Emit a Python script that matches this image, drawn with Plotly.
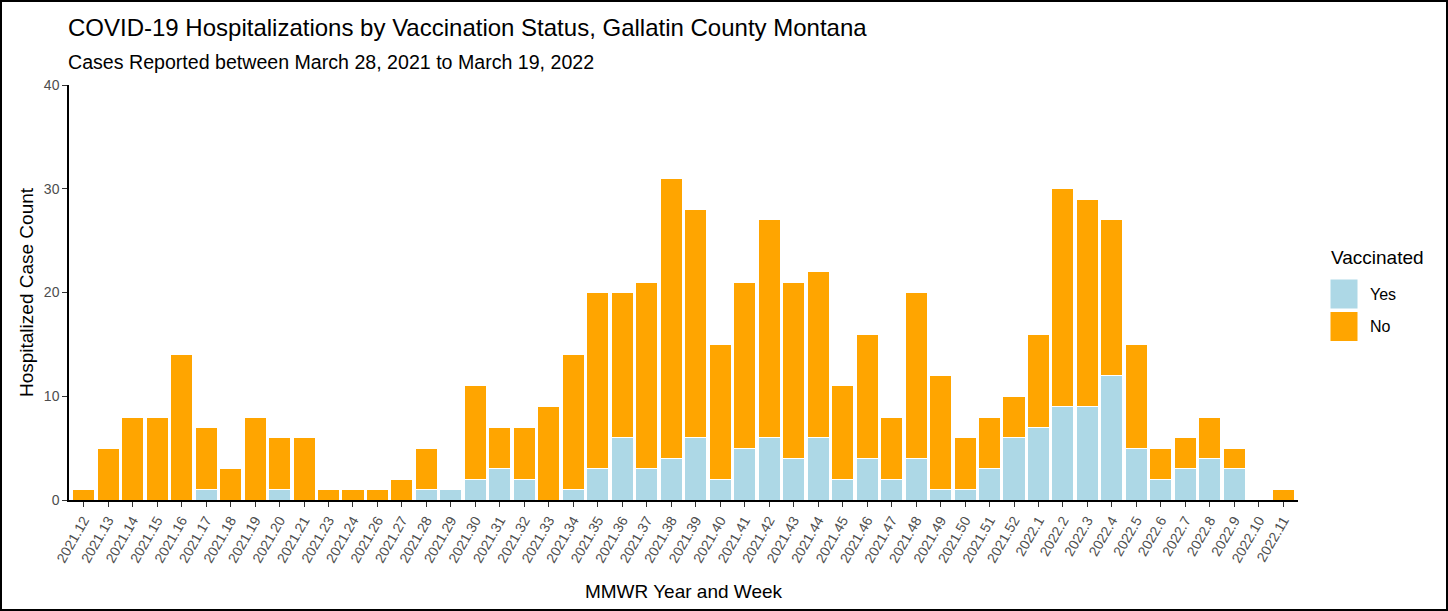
import plotly.graph_objects as go

weeks = ["2021.12", "2021.13", "2021.14", "2021.15", "2021.16", "2021.17", "2021.18", "2021.19",
         "2021.20", "2021.21", "2021.23", "2021.24", "2021.26", "2021.27", "2021.28", "2021.29",
         "2021.30", "2021.31", "2021.32", "2021.33", "2021.34", "2021.35", "2021.36", "2021.37",
         "2021.38", "2021.39", "2021.40", "2021.41", "2021.42", "2021.43", "2021.44", "2021.45",
         "2021.46", "2021.47", "2021.48", "2021.49", "2021.50", "2021.51", "2021.52",
         "2022.1", "2022.2", "2022.3", "2022.4", "2022.5", "2022.6", "2022.7", "2022.8",
         "2022.9", "2022.10", "2022.11"]

vaccinated_yes = [0, 0, 0, 0, 0, 1, 0, 0, 1, 0, 0, 0, 0, 0, 1, 1,
                  2, 3, 2, 0, 1, 3, 6, 3, 4, 6, 2, 5, 6, 4, 6, 2,
                  4, 2, 4, 1, 1, 3, 6,
                  7, 9, 9, 12, 5, 2, 3, 4, 3, 0, 0]

vaccinated_no = [1, 5, 8, 8, 14, 6, 3, 8, 5, 6, 1, 1, 1, 2, 4, 0,
                 9, 4, 5, 9, 13, 17, 14, 18, 27, 22, 13, 16, 21, 17, 16, 9,
                 12, 6, 16, 11, 5, 5, 4,
                 9, 21, 20, 15, 10, 3, 3, 4, 2, 0, 1]

legend_labels = ["Yes", "No"]
legend_colors = ["#ADD8E6", "#FFA500"]

W, H = 1448, 611
L, R, T, B = 69, 150, 85, 111
PW, PH = W - L - R, H - T - B


def px_x(px):
    return (px - L) / PW


def px_y(py):
    return (H - B - py) / PH


fig = go.Figure()
fig.add_trace(go.Bar(x=weeks, y=vaccinated_yes, name=legend_labels[0], showlegend=False,
                     marker=dict(color=legend_colors[0], line=dict(color="white", width=1))))
fig.add_trace(go.Bar(x=weeks, y=vaccinated_no, name=legend_labels[1], showlegend=False,
                     marker=dict(color=legend_colors[1], line=dict(color="white", width=1))))

font = "Liberation Sans, Arial, sans-serif"

annotations = [
    dict(text="COVID-19 Hospitalizations by Vaccination Status, Gallatin County Montana",
         xref="paper", yref="paper", x=px_x(66), y=px_y(28), xanchor="left", yanchor="middle",
         showarrow=False, font=dict(size=24, color="black")),
    dict(text="Cases Reported between March 28, 2021 to March 19, 2022",
         xref="paper", yref="paper", x=px_x(66), y=px_y(62), xanchor="left", yanchor="middle",
         showarrow=False, font=dict(size=19.6, color="black")),
    dict(text="Vaccinated", xref="paper", yref="paper", x=px_x(1329), y=px_y(257),
         xanchor="left", yanchor="middle", showarrow=False, font=dict(size=19, color="black")),
]
shapes = []
for i, (lab, col) in enumerate(zip(legend_labels, legend_colors)):
    top = 279 + i * 32.5
    shapes.append(dict(type="rect", xref="paper", yref="paper",
                       x0=px_x(1330), x1=px_x(1358), y0=px_y(top), y1=px_y(top + 30),
                       fillcolor=col, line=dict(color="white", width=1)))
    annotations.append(dict(text=lab, xref="paper", yref="paper", x=px_x(1368), y=px_y(top + 15),
                            xanchor="left", yanchor="middle", showarrow=False,
                            font=dict(size=16, color="black")))

shapes.append(dict(type="rect", xref="paper", yref="paper",
                   x0=px_x(1), x1=px_x(W - 1), y0=px_y(H - 1), y1=px_y(1),
                   line=dict(color="black", width=2), fillcolor="rgba(0,0,0,0)", layer="above"))

fig.update_layout(
    width=W, height=H,
    margin=dict(l=L, r=R, t=T, b=B),
    barmode="stack", bargap=0.1,
    plot_bgcolor="white", paper_bgcolor="white",
    font=dict(family=font, color="black"),
    showlegend=False,
    xaxis=dict(type="category", range=[-0.6, len(weeks) - 0.4],
               showline=True, linecolor="black", linewidth=1.5,
               ticks="outside", ticklen=5, tickcolor="#333333",
               tickangle=-60, tickfont=dict(size=14, color="#4d4d4d"),
               title=dict(text="MMWR Year and Week", font=dict(size=19, color="black"), standoff=20),
               showgrid=False),
    yaxis=dict(range=[0, 40], tickvals=[0, 10, 20, 30, 40],
               showline=True, linecolor="black", linewidth=1.5,
               ticks="outside", ticklen=5, tickcolor="#333333",
               tickfont=dict(size=14, color="#4d4d4d"),
               title=dict(text="Hospitalized Case Count", font=dict(size=19, color="black"), standoff=5),
               showgrid=False, zeroline=False),
    annotations=annotations,
    shapes=shapes,
)

fig.write_html("out.html", config={"displayModeBar": False},
               post_script="document.body.style.margin='0';document.body.style.overflow='hidden';")
